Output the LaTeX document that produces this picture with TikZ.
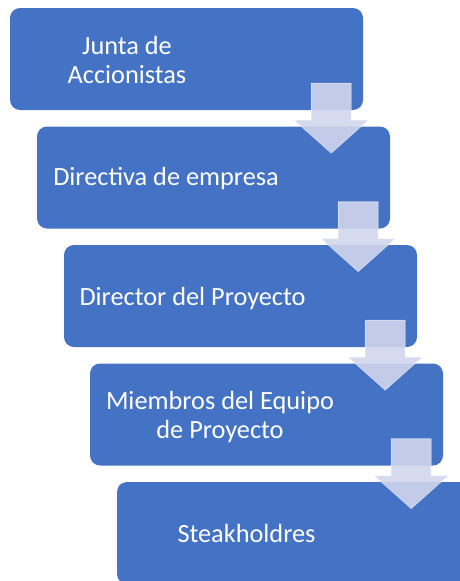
\documentclass[tikz,border=0pt]{standalone}
\usepackage{fontspec}
\setmainfont{Carlito}
\usetikzlibrary{calc}
\definecolor{boxblue}{HTML}{4472C4}
\definecolor{arrowfill}{HTML}{D0D6EC}
\tikzset{
  stagebox/.style={fill=boxblue, draw=none, rounded corners=10pt, minimum width=353pt, minimum height=102pt, inner sep=0pt},
  stagetext/.style={text=white, font=\fontsize{26.3}{28.8}\selectfont, inner sep=0pt, align=center, anchor=base},
  downarrow/.style={fill=arrowfill, fill opacity=0.9, draw=white, draw opacity=0.5, line width=0.6pt}
}
\begin{document}
\begin{tikzpicture}[x=1pt,y=-1pt]
\useasboundingbox (0,0) rectangle (459,581);
\node[stagebox] (b1) at (186.5,59) {};
\node[stagebox] (b2) at (213.5,177.5) {};
\node[stagebox] (b3) at (240.5,296) {};
\node[stagebox] (b4) at (266.5,414.5) {};
\node[stagebox] (b5) at (293.5,533) {};
\foreach \b [count=\i] in {b1,b2,b3,b4} {
  \path (\b.south east) ++(-32,0) coordinate (t\i);
  \path[downarrow] ($(t\i)+(-20,-27)$) -- ($(t\i)+(20,-27)$) -- ($(t\i)+(20,10)$) -- ($(t\i)+(37,10)$) -- ($(t\i)+(0,43)$) -- ($(t\i)+(-37,10)$) -- ($(t\i)+(-20,10)$) -- cycle;
}
\node[stagetext] (l1) at (127,83) {Junta de\\Accionistas};
\node[stagetext] (l2) at (166,185) {Directiva de empresa};
\node[stagetext] (l3) at (192.5,305) {Director del Proyecto};
\node[stagetext] (l4) at (220,438) {Miembros del Equipo\\de Proyecto};
\node[stagetext] (l5) at (246.5,542) {Steakholdres};
\end{tikzpicture}
\end{document}
